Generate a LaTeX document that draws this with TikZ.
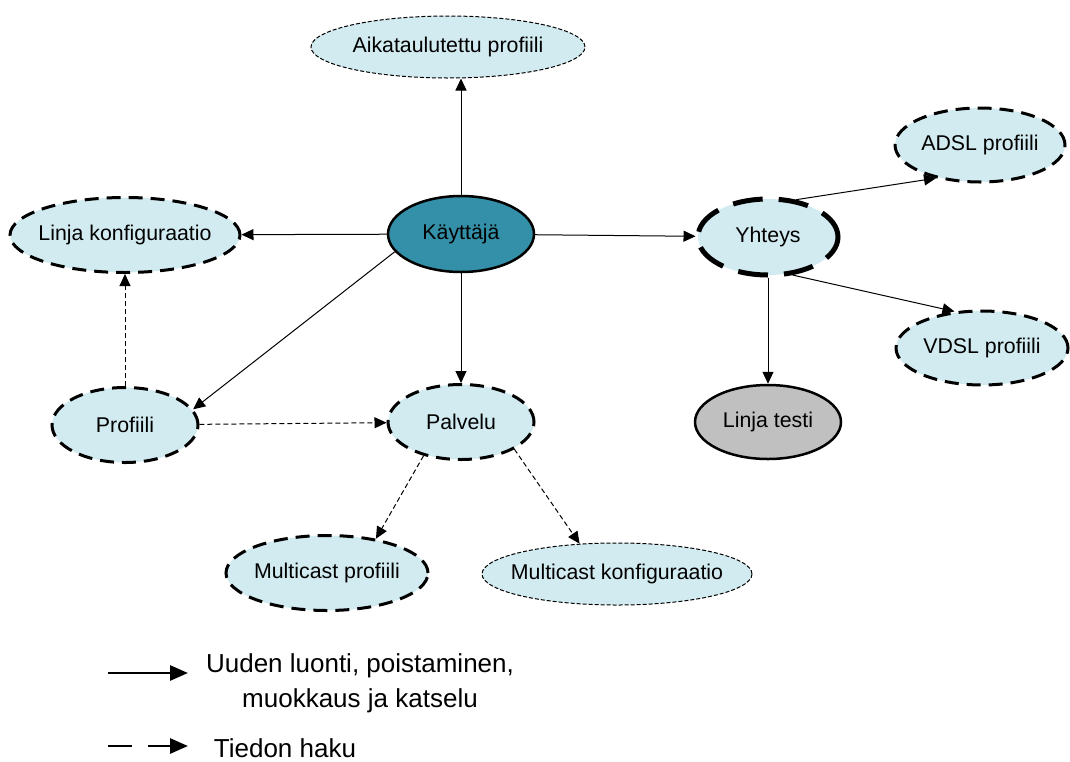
\documentclass[tikz,border=0pt]{standalone}
\usepackage{fontspec}
\setmainfont{Liberation Sans}
\usetikzlibrary{shapes.geometric, arrows.meta}
\definecolor{nodefill}{HTML}{D2EBF0}
\definecolor{userfill}{HTML}{3390A8}
\definecolor{testfill}{HTML}{C0C0C0}

\begin{document}
\begin{tikzpicture}[
        x=0.75pt, y=-0.75pt,
        ent/.style={ellipse, fill=nodefill, inner ysep=0pt, inner xsep=-30pt, text=black,
          font=\fontsize{16}{19}\selectfont},
        size/.style 2 args={minimum width=#1*0.75pt, minimum height=#2*0.75pt},
        solident/.style={ent, draw, line width=1.875pt},
        dashent/.style={ent, draw, line width=2.25pt, dash pattern=on 10.5pt off 6pt},
        bigdashent/.style={ent, draw, line width=3.75pt, dash pattern=on 22.5pt off 12pt},
        thinent/.style={ent, draw, line width=0.75pt, dash pattern=on 3pt off 1.5pt},
        go/.style={-{Triangle[length=9pt, width=8.25pt]}, line width=0.75pt},
        fetch/.style={go, dash pattern=on 3.75pt off 2.25pt},
        legend/.style={font=\fontsize{19.5}{26}\selectfont, text=black}
      ]
      \useasboundingbox (0,0) rectangle (1070,761);
      % nodes
      \node[thinent, size={274}{62}] (aika) at (448,47) {Aikataulutettu profiili};
      \node[solident, fill=userfill, size={146}{76}] (kayt) at (461,234) {Käyttäjä};
      \node[dashent, size={230}{75}] (lkonf) at (125,235) {Linja konfiguraatio};
      \node[bigdashent, size={140}{76}] (yht) at (768,237) {Yhteys};
      \node[dashent, size={170}{74}] (adsl) at (980,145) {ADSL profiili};
      \node[dashent, size={172}{74}] (vdsl) at (982,348) {VDSL profiili};
      \node[solident, fill=testfill, size={146}{74}] (ltesti) at (768,422) {Linja testi};
      \node[dashent, size={146}{75}] (prof) at (125,425) {Profiili};
      \node[dashent, size={146}{75}] (palv) at (461,422) {Palvelu};
      \node[dashent, size={202}{75}] (mprof) at (327,573) {Multicast profiili};
      \node[thinent, size={270}{62}] (mkonf) at (617,574) {Multicast konfiguraatio};
      % connectors
      \draw[go] (kayt) -- (kayt |- aika.south);
      \draw[go] (kayt) -- (lkonf);
      \draw[go] (kayt) -- (yht);
      \draw[go] (kayt.195) -- (prof.13);
      \draw[go] (kayt) -- (palv);
      \draw[go] (yht.53) -- (adsl.217);
      \draw[go] (yht.303) -- (vdsl.127);
      \draw[go] (yht) -- (ltesti);
      \draw[fetch] (prof) -- (lkonf);
      \draw[fetch] (prof) -- (palv);
      \draw[fetch] (palv.222) -- (mprof.35);
      \draw[fetch] (palv.333) -- (mkonf.141);
      % legend
      \coordinate (la) at (108,673);
      \coordinate (lb) at (188,673);
      \coordinate (lc) at (108,746);
      \coordinate (ld) at (188,746);
      \draw[-{Triangle[length=13.5pt, width=11.25pt]}, line width=2.1pt] (la) -- (lb);
      \draw[-{Triangle[length=13.5pt, width=11.25pt]}, line width=2.1pt,
        dash pattern=on 18pt off 12pt] (lc) -- (ld);
      \node[legend, align=center] (lt1) at (360,683) {Uuden luonti, poistaminen,\\muokkaus ja katselu};
      \node[legend] (lt2) at (285,748) {Tiedon haku};
    \end{tikzpicture}
\end{document}
